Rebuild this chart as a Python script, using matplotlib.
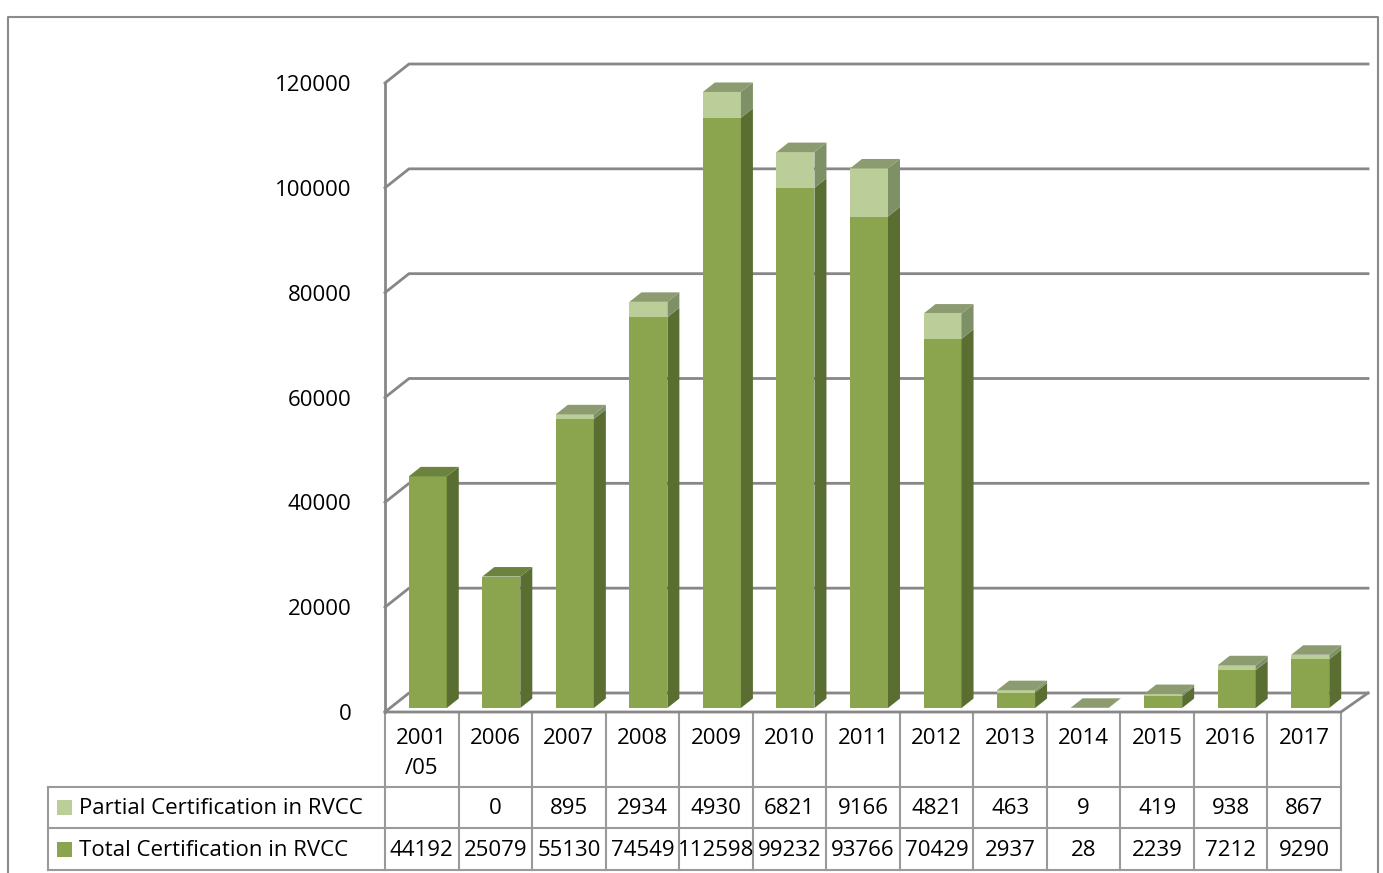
import numpy as np
import matplotlib
matplotlib.use("Agg")
import matplotlib.pyplot as plt
from matplotlib.patches import Polygon, Rectangle

plt.rcParams['font.family'] = ['Open Sans', 'DejaVu Sans']

years = ['2001\n/05', '2006', '2007', '2008', '2009', '2010', '2011',
         '2012', '2013', '2014', '2015', '2016', '2017']
total_cert = [44192, 25079, 55130, 74549, 112598, 99232, 93766,
              70429, 2937, 28, 2239, 7212, 9290]
partial_cert = [None, 0, 895, 2934, 4930, 6821, 9166,
                4821, 463, 9, 419, 938, 867]
series_names = ['Partial Certification in RVCC', 'Total Certification in RVCC']
yticks = [0, 20000, 40000, 60000, 80000, 100000, 120000]

# face colours
tot_front, tot_side, tot_top = '#8aa54e', '#5a6e32', '#6c8340'
par_front, par_side, par_top = '#bbcd98', '#7e9066', '#8c9c70'
grid_c = '#878787'
line_c = '#9a9a9a'
fs = 16

W, H = 1383, 873
fig = plt.figure(figsize=(W / 100, H / 100), dpi=100)

# overlay in pixel units for frame and table
ov = fig.add_axes([0, 0, 1, 1])
ov.set_xlim(0, W)
ov.set_ylim(H, 0)
ov.axis('off')

x0, x1 = 385, 1341
y0, y1 = 712, 83
n = len(years)
ax = fig.add_axes([x0 / W, 1 - y0 / H, (x1 - x0) / W, (y0 - y1) / H])
ax.set_xlim(-0.5, n - 0.5)
ax.set_ylim(0, 120000)
for s in ax.spines.values():
    s.set_visible(False)
ax.set_xticks([])
ax.set_yticks(yticks)
ax.set_yticklabels([str(v) for v in yticks], fontsize=fs)
ax.tick_params(axis='y', length=0, pad=24)
ax.patch.set_alpha(0)

kx = n / (x1 - x0)
ky = 120000 / (y0 - y1)

def off(dx, dy):
    return dx * kx, dy * ky

# back wall depth and bar geometry (pixels)
wdx, wdy = off(27, 19)
fdx, fdy = off(6, 4)
bdx, bdy = off(12, 9.5)
bw = 38 * kx

# walls and gridlines
left = -0.5
right = n - 0.5
for v in yticks:
    ax.plot([left, left + 24 * kx, right + wdx], [v, v + wdy, v + wdy],
            color=grid_c, lw=2, clip_on=False, zorder=1)
ax.plot([left, left], [0, 120000], color=grid_c, lw=2, clip_on=False, zorder=1)
ax.plot([left, right, right + wdx], [0, 0, wdy], color=grid_c, lw=2,
        clip_on=False, zorder=1)

def box(xl, yb, yt, front, side, top, z):
    xr = xl + bw
    ax.add_patch(Rectangle((xl, yb), bw, yt - yb, facecolor=front,
                           edgecolor='none', clip_on=False, zorder=z))
    ax.add_patch(Polygon([(xr, yb), (xr + bdx, yb + bdy), (xr + bdx, yt + bdy),
                          (xr, yt)], closed=True, facecolor=side,
                         edgecolor='none', clip_on=False, zorder=z))
    if top:
        ax.add_patch(Polygon([(xl, yt), (xl + bdx, yt + bdy), (xr + bdx, yt + bdy),
                              (xr, yt)], closed=True, facecolor=top,
                             edgecolor='none', clip_on=False, zorder=z))

for i in range(n):
    xl = i - bw / 2 + fdx
    yb = fdy
    t = total_cert[i]
    p = partial_cert[i] or 0
    z = 3 + i
    box(xl, yb, yb + t, tot_front, tot_side, tot_top if p == 0 else None, z)
    if p:
        box(xl, yb + t, yb + t + p, par_front, par_side, par_top, z)

# data table
col_w = (x1 - x0) / n
edges = [x0 + i * col_w for i in range(n + 1)]
r0, r1, r2, r3 = 712, 787, 828, 870
tl = 48
for e in edges:
    ov.plot([e, e], [r0, r3], color=line_c, lw=1.5)
ov.plot([tl, tl], [r1, r3], color=line_c, lw=1.5)
for r in (r1, r2, r3):
    ov.plot([tl, x1], [r, r], color=line_c, lw=1.5)

for i, lab in enumerate(years):
    cx = (edges[i] + edges[i + 1]) / 2
    ov.text(cx, 728, lab, ha='center', va='top', fontsize=fs,
            linespacing=1.55)
    if partial_cert[i] is not None:
        ov.text(cx, (r1 + r2) / 2 + 1, str(partial_cert[i]), ha='center',
                va='center', fontsize=fs)
    ov.text(cx, (r2 + r3) / 2 + 1, str(total_cert[i]), ha='center',
            va='center', fontsize=fs)

for (ra, rb), name, c in zip([(r1, r2), (r2, r3)], series_names,
                             [par_front, tot_front]):
    ym = (ra + rb) / 2
    ov.add_patch(Rectangle((57, ym - 7.5), 15, 15, facecolor=c, edgecolor='none'))
    ov.text(79, ym + 1, name, ha='left', va='center', fontsize=fs)

# outer border
ov.plot([8, 8, 1378, 1378], [H + 5, 17, 17, H + 5], color='#8a8a8a', lw=1.5)

fig.savefig('out.png', dpi=100)
